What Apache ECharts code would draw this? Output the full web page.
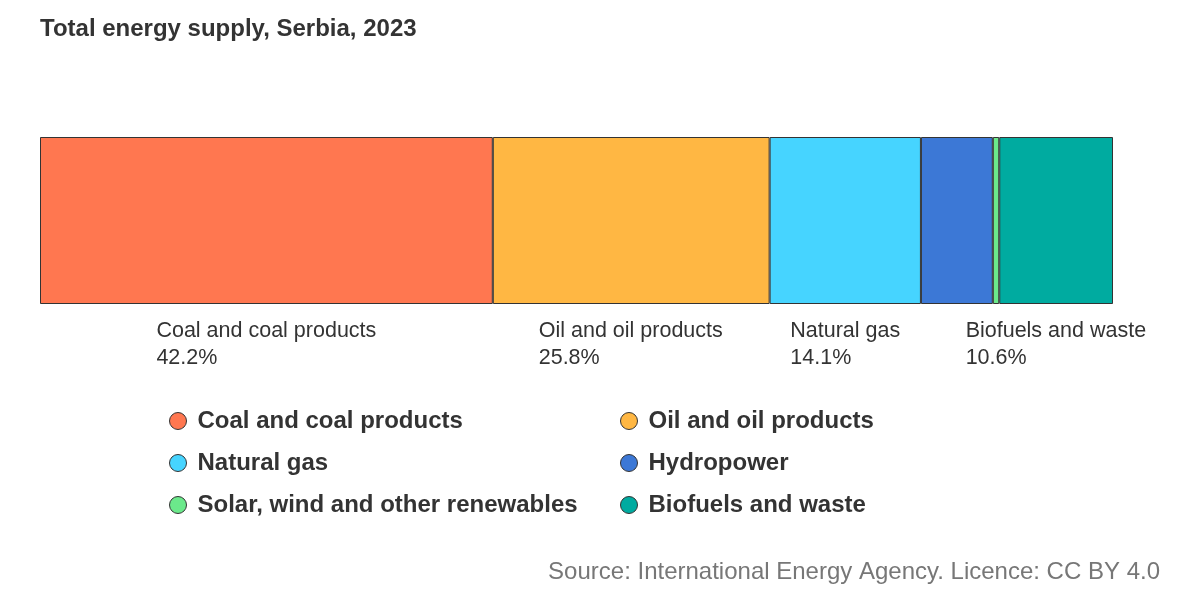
<!DOCTYPE html>
<html>
<head>
<meta charset="utf-8">
<script src="https://cdn.jsdelivr.net/npm/echarts@6/dist/echarts.min.js"></script>
<style>html,body{margin:0;padding:0;background:#fff}#c{width:1200px;height:600px}</style>
</head>
<body>
<div id="c"></div>
<script>
const sources = ['Coal and coal products','Oil and oil products','Natural gas','Hydropower','Solar, wind and other renewables','Biofuels and waste'];
const shares = [42.2, 25.8, 14.1, 6.7, 0.6, 10.6];
const showLabel = [true, true, true, false, false, true];
const colors = ['#ff7750','#ffb743','#46d4ff','#3c78d6','#6be98b','#00aba0'];
const title = 'Total energy supply, Serbia, 2023';
const source = 'Source: International Energy Agency. Licence: CC BY 4.0';

const FONT = '"Liberation Sans", Arial, sans-serif';
const LABEL_SIZE = 21.5;
const cv = document.createElement('canvas').getContext('2d');
cv.font = LABEL_SIZE + 'px ' + FONT;
function w(t){ return Math.ceil(cv.measureText(t).width); }

const series = sources.map((name, i) => {
  const pct = shares[i].toFixed(1) + '%';
  const W = Math.max(w(name), w(pct));
  return {
    name, type: 'bar', stack: 'total', barWidth: 167,
    data: [shares[i]],
    itemStyle: { color: colors[i], borderColor: '#333', borderWidth: 1 },
    label: {
      show: showLabel[i], position: 'bottom', distance: 14,
      formatter: '{a|' + name + '}\n{a|' + pct + '}',
      rich: { a: { width: W, align: 'left', fontSize: LABEL_SIZE, lineHeight: 27, color: '#333', fontFamily: FONT } }
    },
    emphasis: { disabled: true }
  };
});

const legendCommon = {
  orient: 'vertical', itemWidth: 17, itemHeight: 17, itemGap: 18, icon: 'circle', padding: 0,
  textStyle: { fontSize: 24, fontWeight: 'bold', color: '#333', fontFamily: FONT, padding: [0,0,0,6] },
  itemStyle: { borderColor: '#333', borderWidth: 1 }, selectedMode: false
};

const chart = echarts.init(document.getElementById('c'));
chart.setOption({
  animation: false,
  title: { text: title, left: 40, top: 17, padding: 0, textStyle: { fontSize: 24, fontWeight: 'bold', color: '#333', fontFamily: FONT } },
  grid: { left: 40, right: 87, top: 137, height: 167 },
  xAxis: { type: 'value', min: 0, max: 100, show: false },
  yAxis: { type: 'category', data: ['Serbia'], show: false },
  legend: [
    Object.assign({ left: 169, top: 409, data: [sources[0], sources[2], sources[4]] }, legendCommon),
    Object.assign({ left: 620, top: 409, data: [sources[1], sources[3], sources[5]] }, legendCommon)
  ],
  series,
  graphic: [{ type: 'text', right: 40, top: 560, style: { text: source, fontSize: 24, fill: '#777', fontFamily: FONT } }]
});
</script>
</body>
</html>
